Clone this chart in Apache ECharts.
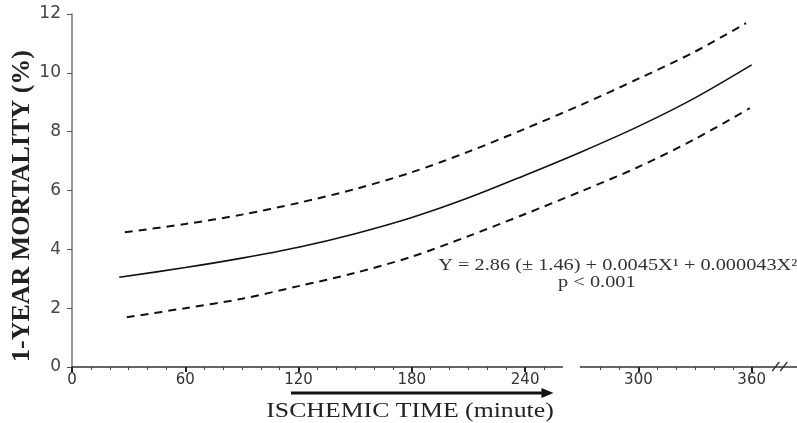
<!DOCTYPE html>
<html>
<head>
<meta charset="utf-8">
<script src="https://cdn.jsdelivr.net/npm/echarts@6/dist/echarts.min.js"></script>
<style>html,body{margin:0;padding:0;background:#fff}#c{width:797px;height:423px}</style>
</head>
<body>
<div id="c"></div>
<script>
// Data
const meanTime  = [25, 60, 90, 120, 150, 180, 210, 240, 270, 300, 330, 360];
const meanMort  = [3.05, 3.38, 3.70, 4.07, 4.53, 5.08, 5.75, 6.52, 7.32, 8.18, 9.15, 10.27];
const upperTime = [28, 60, 90, 120, 150, 180, 210, 240, 270, 300, 330, 357];
const upperMort = [4.58, 4.86, 5.18, 5.58, 6.05, 6.62, 7.32, 8.10, 8.92, 9.80, 10.72, 11.69];
const lowerTime = [29, 60, 90, 120, 150, 180, 210, 240, 270, 300, 330, 359];
const lowerMort = [1.69, 2.00, 2.32, 2.75, 3.20, 3.75, 4.45, 5.20, 5.98, 6.80, 7.75, 8.80];
const xTickLabels = [0, 60, 120, 180, 240, 300, 360];
const xMinorTicks = [10,20,30,40,50,70,80,90,100,110,130,140,150,160,170,190,200,210,220,230,250,260,280,290,310,320,330,340,350];
const yTickLabels = [0, 2, 4, 6, 8, 10, 12];
const xTitle = 'ISCHEMIC TIME (minute)';
const yTitle = '1-YEAR MORTALITY (%)';
const eqText = 'Y = 2.86 (\u00B1 1.46) + 0.0045X\u00B9 + 0.000043X\u00B2';
const pText = 'p < 0.001';
const arrowFrom = 116, arrowTo = 255;   // in minutes
const axisGap = [260, 269];              // break in the x axis line
const breakAt = 373;

const zip = (a, b) => a.map((v, i) => [v, b[i]]);

const chart = echarts.init(document.getElementById('c'), null, {renderer: 'canvas'});
const GRID = {left: 72, top: 14, width: 725, height: 353};
const sans = '"DejaVu Sans", "Liberation Sans", sans-serif';
const serif = '"Liberation Serif", "Times New Roman", serif';

chart.setOption({
  animation: false,
  backgroundColor: '#fff',
  grid: GRID,
  xAxis: [{
    type: 'value', min: 0, max: 384, position: 'bottom',
    splitLine: {show: false},
    axisLine: {show: true, lineStyle: {color: '#333', width: 1.5}},
    axisTick: {show: true, customValues: xTickLabels, length: 5, lineStyle: {color: '#222', width: 2}},
    axisLabel: {customValues: xTickLabels, margin: 6, fontFamily: sans, fontSize: 15, color: '#333'}
  }, {
    type: 'value', min: 0, max: 384, position: 'bottom', gridIndex: 0,
    splitLine: {show: false},
    axisLine: {show: false},
    axisTick: {show: true, customValues: xMinorTicks, length: 3, lineStyle: {color: '#444', width: 1}},
    axisLabel: {show: false}
  }],
  yAxis: {
    type: 'value', min: 0, max: 12, interval: 2,
    splitLine: {show: false},
    axisLine: {show: true, lineStyle: {color: '#777', width: 1.5}},
    axisTick: {show: true, length: 5, lineStyle: {color: '#555'}},
    axisLabel: {margin: 11, fontFamily: sans, fontSize: 17, color: '#444'}
  },
  series: [{
    type: 'line', data: zip(meanTime, meanMort), smooth: 0.3, symbol: 'none',
    lineStyle: {color: '#111', width: 1.6}
  }, {
    type: 'line', data: zip(upperTime, upperMort), smooth: 0.3, symbol: 'none',
    lineStyle: {color: '#111', width: 2, type: [8, 6]}
  }, {
    type: 'line', data: zip(lowerTime, lowerMort), smooth: 0.3, symbol: 'none',
    lineStyle: {color: '#111', width: 2, type: [8, 6]}
  }]
});

function px(x, y) { return chart.convertToPixel({xAxisIndex: 0, yAxisIndex: 0}, [x, y]); }
const o = px(0, 0);
const g0 = px(axisGap[0], 0), g1 = px(axisGap[1], 0);
const a0 = px(arrowFrom, 0), a1 = px(arrowTo, 0);
const b = px(breakAt, 0);
const eq = px(194, 3.45);
const pp = px(278, 2.85);
const ay = o[1] + 26;

chart.setOption({
  graphic: [
    {type: 'rect', shape: {x: g0[0], y: o[1] - 3, width: g1[0] - g0[0], height: 6}, style: {fill: '#fff'}, z: 100},
    {type: 'line', shape: {x1: b[0] - 4, y1: o[1] + 4, x2: b[0] + 3, y2: o[1] - 5}, style: {stroke: '#333', lineWidth: 1.3}, z: 100},
    {type: 'line', shape: {x1: b[0] + 4, y1: o[1] + 4, x2: b[0] + 11, y2: o[1] - 5}, style: {stroke: '#333', lineWidth: 1.3}, z: 100},
    {type: 'line', shape: {x1: a0[0], y1: ay, x2: a1[0] - 10, y2: ay}, style: {stroke: '#111', lineWidth: 3}, z: 100},
    {type: 'polygon', shape: {points: [[a1[0] - 12, ay - 5], [a1[0], ay], [a1[0] - 12, ay + 5]]}, style: {fill: '#111'}, z: 100},
    {type: 'text', x: 410, y: ay + 18, scaleX: 1.17, style: {text: xTitle, font: '22px ' + serif, fill: '#222', align: 'center', verticalAlign: 'middle'}, z: 100},
    {type: 'text', x: 22, y: 206, rotation: Math.PI / 2, style: {text: yTitle, font: 'bold 26px ' + serif, fill: '#222', align: 'center', verticalAlign: 'middle'}, z: 100},
    {type: 'text', x: eq[0], y: eq[1], scaleX: 1.27, style: {text: eqText, font: '16px ' + serif, fill: '#333', align: 'left', verticalAlign: 'middle'}, z: 100},
    {type: 'text', x: pp[0], y: pp[1], scaleX: 1.27, style: {text: pText, font: '16px ' + serif, fill: '#333', align: 'center', verticalAlign: 'middle'}, z: 100}
  ]
});
</script>
</body>
</html>
